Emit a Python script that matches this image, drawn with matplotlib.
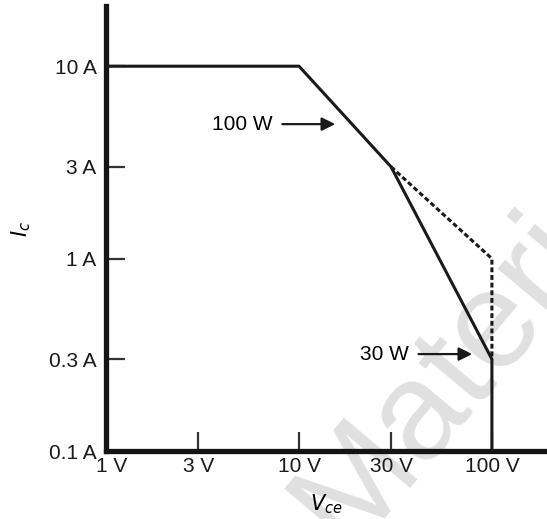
import matplotlib
matplotlib.use("Agg")
import matplotlib.pyplot as plt
from matplotlib.transforms import ScaledTranslation

plt.rcParams["font.family"] = ["Liberation Sans", "DejaVu Sans"]

# Safe operating area envelope (V, A)
soa_v = [1, 10, 30, 100, 100]
soa_i = [10, 10, 3, 0.3, 0.1]

# 100 W limit extended (dashed)
ext_v = [30, 100, 100]
ext_i = [3, 1, 0.3]

x_ticks = [1, 3, 10, 30, 100]
x_labels = ["1 V", "3 V", "10 V", "30 V", "100 V"]
y_ticks = [0.1, 0.3, 1, 3, 10]
y_labels = ["0.1 A", "0.3 A", "1 A", "3 A", "10 A"]

fig = plt.figure(figsize=(5.47, 5.19), dpi=100)
ax = fig.add_axes([0.194, 0.131, 0.806, 0.857])

ax.set_xscale("log")
ax.set_yscale("log")
ax.set_xlim(1, 193)
ax.set_ylim(0.1, 20.5)

ax.plot(soa_v, soa_i, color="#1a1a1a", lw=2.2, solid_joinstyle="miter", zorder=3)
ax.plot(ext_v, ext_i, color="#1a1a1a", lw=2.2, ls=(0, (1.6, 0.9)), zorder=3)

for s in ["top", "right"]:
    ax.spines[s].set_visible(False)
for s in ["left", "bottom"]:
    ax.spines[s].set_linewidth(3.8)
    ax.spines[s].set_color("#141414")

ax.set_xticks(x_ticks)
ax.set_xticklabels(x_labels)
ax.set_yticks(y_ticks)
ax.set_yticklabels(y_labels)
ax.minorticks_off()
ax.tick_params(direction="in", length=14, width=1.6, color="#333333",
               labelsize=15, labelcolor="#1a1a1a")
ax.tick_params(axis="x", pad=4)
ax.tick_params(axis="y", pad=7)

# nudge "1 V" a little right, clear of the corner
lbl = ax.get_xticklabels()[0]
lbl.set_transform(lbl.get_transform() + ScaledTranslation(4 / 72, 0, fig.dpi_scale_trans))

ax.set_xlabel("$V_{ce}$", fontsize=15, labelpad=12)
ax.set_ylabel("$I_c$", fontsize=15, labelpad=11)

arrow = dict(arrowstyle="-|>", color="#1a1a1a", lw=1.6, mutation_scale=20,
             shrinkA=5, shrinkB=0)
ax.annotate("100 W", xy=(15.4, 5.0), xytext=(3.54, 5.0), fontsize=15,
            va="center", arrowprops=arrow)
ax.annotate("30 W", xy=(79, 0.319), xytext=(20.7, 0.319), fontsize=15,
            va="center", arrowprops=arrow)

# watermark
ax.text(0.874, 0.349, "Material", transform=fig.transFigure, fontsize=100,
        color="#e0e0e0", rotation=50, ha="center", va="center",
        zorder=0, clip_on=False)

fig.savefig("out.png", dpi=100)
